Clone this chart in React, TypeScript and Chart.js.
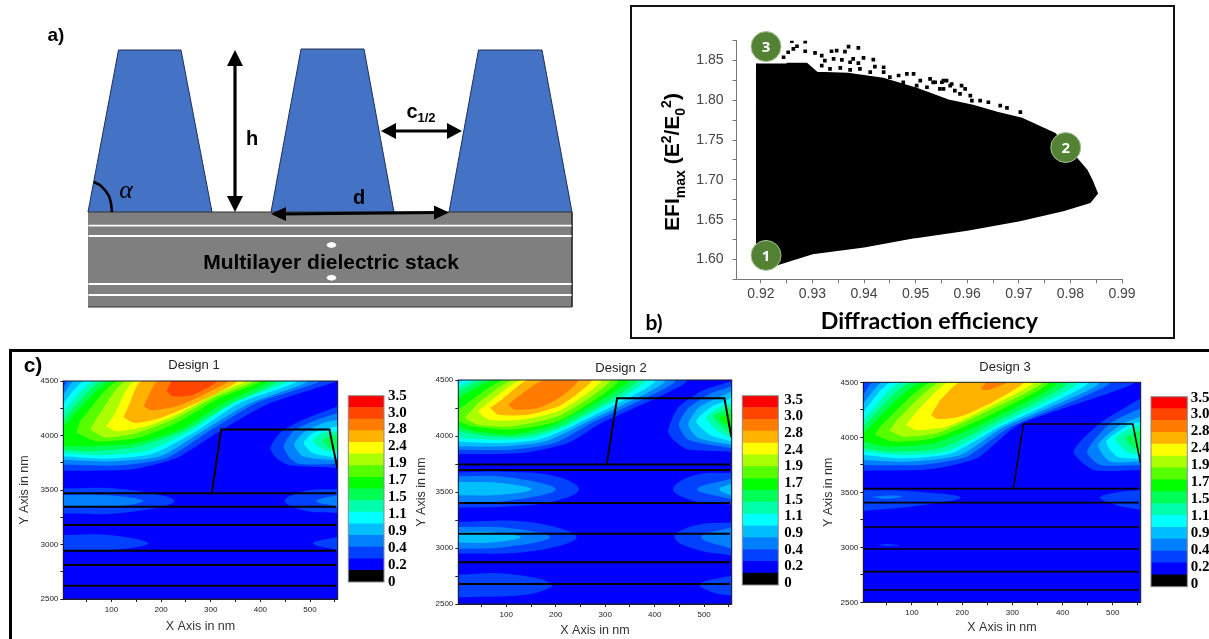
import React, { useEffect, useRef } from "react";
import { Chart, registerables } from "chart.js";

Chart.register(...registerables);

const SANS = "'Liberation Sans', Arial, sans-serif";
const SERIF = "'Liberation Serif', serif";

// ---------- contour levels (low to high) ----------
const levelColors = ["#000000", "#0000ff", "#0040ff", "#0080ff", "#00bfff", "#00ffff", "#00ffaa", "#00ff55", "#00ff00", "#55ff00", "#aaff00", "#ffff00", "#ffb200", "#ff7c00", "#ff4500", "#ff0000"];
const legendLabels = ["0", "0.2", "0.4", "0.9", "1.1", "1.5", "1.7", "1.9", "2.4", "2.8", "3.0", "3.5"];

// ---------- Design 1: first polygon of each list is level 2, then upward ----------
const design1Lobe = [
  [3, 3677, 137, 3687, 231, 3794, 312, 4023, 412, 4283, 553, 4500, 3, 4500],
  [3, 3732, 117, 3726, 211, 3794, 291, 4023, 392, 4298, 516, 4500, 13, 4500, 3, 4436],
  [3, 3778, 104, 3763, 198, 3809, 278, 4023, 372, 4283, 493, 4500, 26, 4500, 3, 4375],
  [3, 3809, 90, 3787, 181, 3830, 265, 4023, 358, 4298, 472, 4500, 47, 4500, 3, 4298],
  [3, 3839, 77, 3818, 171, 3861, 258, 4038, 345, 4298, 452, 4500, 67, 4500, 3, 4222],
  [3, 3870, 63, 3855, 157, 3901, 244, 4038, 338, 4283, 432, 4500, 83, 4500, 3, 4145],
  [3, 3901, 63, 3901, 151, 3931, 238, 4054, 325, 4297, 415, 4500, 100, 4500, 3, 4084],
  [30, 4023, 70, 3947, 151, 3977, 231, 4115, 318, 4344, 399, 4500, 114, 4500, 36, 4130],
  [57, 4054, 87, 3983, 151, 4023, 231, 4161, 312, 4359, 385, 4500, 130, 4500, 70, 4160],
  [89, 4084, 110, 4038, 171, 4084, 238, 4206, 312, 4390, 369, 4500, 147, 4500, 104, 4176],
  [124, 4167, 147, 4115, 198, 4161, 278, 4313, 352, 4500, 161, 4500, 134, 4268],
  [165, 4268, 181, 4231, 231, 4268, 285, 4375, 335, 4500, 194, 4500, 174, 4359],
  [211, 4405, 224, 4359, 265, 4375, 312, 4500, 221, 4500],
];
const design1RightLobe = [
  [555.7, 3702, 459, 3726, 432, 3794, 420, 3885, 439, 4023, 479, 4130, 555.7, 4268],
  [555.7, 3739, 479, 3739, 459, 3794, 447, 3901, 466, 4038, 506, 4130, 555.7, 4206],
  [555.7, 3769, 486, 3809, 468, 3916, 486, 4023, 526, 4115, 555.7, 4145],
  [555.7, 3794, 506, 3839, 487, 3931, 506, 4023, 540, 4069, 555.7, 4084],
  [555.7, 3839, 526, 3870, 506, 3947, 523, 4023, 555.7, 4038],
  [555.7, 3870, 540, 3885, 526, 3947, 536, 3992, 555.7, 4008],
];
const design1Blobs040 = [
  [3, 3515, 120, 3510, 227, 3400, 120, 3290, 3, 3285],
  [555.7, 3510, 490, 3490, 449, 3400, 490, 3310, 555.7, 3290],
  [3, 3087, 100, 3085, 174, 3010, 100, 2950, 3, 2950],
  [555.7, 3070, 506, 3010, 555.7, 2950],
];
const design1Blobs080 = [
  [3, 3455, 100, 3450, 164, 3400, 100, 3347, 3, 3347],
  [555.7, 3455, 512, 3400, 555.7, 3347],
];
const design1Blobs0bf: number[][] = [];
const design1Layers = [3470, 3347, 3179, 2943, 2812, 2622];
const design1ProfileX = [302, 321, 539, 555];
const design1ProfileY = [3470, 4056, 4056, 3700];

// ---------- Design 2 ----------
const design2Lobe = [
  [3, 3839, 131, 3848, 225, 3938, 286, 4101, 464, 4500, 3, 4500],
  [3, 3878, 111, 3878, 198, 3938, 266, 4101, 441, 4500, 3, 4500],
  [3, 3908, 91, 3908, 178, 3952, 252, 4101, 420, 4500, 3, 4500],
  [3, 3952, 84, 3938, 165, 3967, 239, 4101, 400, 4500, 16, 4500, 3, 4482],
  [3, 3982, 70, 3967, 151, 3982, 229, 4101, 380, 4500, 37, 4500, 3, 4443],
  [3, 4042, 64, 3997, 131, 3997, 218, 4101, 363, 4500, 57, 4500, 3, 4399],
  [3, 4086, 37, 4042, 111, 4012, 205, 4116, 346, 4500, 77, 4500, 3, 4339],
  [3, 4131, 30, 4086, 111, 4057, 212, 4146, 326, 4500, 97, 4500, 3, 4235],
  [16, 4161, 43, 4101, 111, 4086, 212, 4190, 309, 4500, 114, 4500, 43, 4295],
  [42, 4220, 64, 4146, 131, 4146, 212, 4235, 292, 4500, 131, 4500, 70, 4320],
  [67, 4250, 84, 4190, 144, 4190, 212, 4280, 272, 4500, 144, 4500, 91, 4325],
  [104, 4280, 117, 4235, 165, 4250, 212, 4354, 246, 4500, 175, 4500, 124, 4354],
];
const design2RightLobe = [
  [555.7, 3860, 468, 3880, 441, 3952, 427, 4042, 447, 4250, 494, 4399, 555.7, 4490],
  [555.7, 3892, 468, 3967, 449, 4101, 468, 4250, 515, 4384, 555.7, 4443],
  [555.7, 3922, 488, 3982, 468, 4101, 488, 4250, 535, 4354, 555.7, 4399],
  [555.7, 3952, 511, 4012, 484, 4131, 511, 4250, 549, 4325, 555.7, 4354],
  [555.7, 3982, 528, 4042, 504, 4161, 528, 4250, 555.7, 4295],
  [555.7, 4012, 539, 4072, 518, 4176, 542, 4235, 555.7, 4250],
  [555.7, 4057, 545, 4101, 531, 4161, 555.7, 4205],
];
const design2Blobs040 = [
  [3, 3675, 100, 3680, 200, 3640, 247, 3524, 200, 3420, 100, 3370, 3, 3360],
  [555.7, 3673, 480, 3650, 437, 3524, 480, 3420, 555.7, 3387],
  [3, 3235, 150, 3230, 242, 3097, 150, 2970, 3, 2950],
  [555.7, 3231, 480, 3200, 440, 3097, 480, 2990, 555.7, 2932],
  [3, 2763, 100, 2770, 193, 2679, 150, 2590, 3, 2560],
  [555.7, 2754, 491, 2679, 520, 2600, 555.7, 2575],
];
const design2Blobs080 = [
  [3, 3640, 100, 3635, 200, 3524, 100, 3420, 3, 3410],
  [555.7, 3620, 486, 3524, 555.7, 3434],
  [3, 3187, 100, 3180, 188, 3097, 100, 3010, 3, 2992],
  [555.7, 3187, 494, 3097, 555.7, 2992],
];
const design2Blobs0bf = [
  [3, 3590, 90, 3580, 151, 3524, 90, 3475, 3, 3470],
  [555.7, 3575, 531, 3524, 555.7, 3465],
  [3, 3142, 70, 3140, 129, 3097, 70, 3050, 3, 3046],
];
const design2Layers = [3745, 3697, 3401, 3127, 2873, 2679];
const design2ProfileX = [303, 324, 541, 555];
const design2ProfileY = [3745, 4336, 4336, 3990];

// ---------- Design 3 ----------
const design3Lobe = [
  [3, 3697, 136, 3709, 229, 3809, 312, 4112, 542, 4500, 3, 4500],
  [3, 3749, 116, 3749, 209, 3824, 292, 4082, 492, 4500, 23, 4500, 3, 4385],
  [3, 3794, 96, 3779, 196, 3839, 279, 4082, 472, 4500, 43, 4500, 3, 4309],
  [3, 3839, 83, 3809, 179, 3855, 269, 4082, 449, 4500, 60, 4500, 3, 4233],
  [3, 3870, 76, 3839, 169, 3870, 259, 4082, 429, 4500, 79, 4500, 3, 4158],
  [3, 3900, 63, 3870, 156, 3900, 249, 4097, 409, 4500, 99, 4500, 3, 4097],
  [3, 3961, 50, 3915, 143, 3945, 242, 4127, 389, 4500, 119, 4500, 3, 4036],
  [26, 4021, 63, 3961, 143, 3991, 242, 4173, 372, 4500, 139, 4500, 36, 4097],
  [55, 4061, 83, 4006, 149, 4036, 242, 4218, 359, 4500, 156, 4500, 70, 4158],
  [88, 4112, 109, 4067, 169, 4097, 249, 4264, 342, 4500, 173, 4500, 109, 4233],
  [138, 4203, 153, 4164, 196, 4188, 262, 4324, 322, 4500, 196, 4500, 156, 4339],
  [236, 4436, 252, 4430, 289, 4500, 248, 4500],
];
const design3RightLobe = [
  [555.7, 3703, 462, 3703, 422, 3870, 475, 4127, 555.7, 4355],
  [555.7, 3749, 475, 3749, 449, 3870, 495, 4127, 555.7, 4264],
  [555.7, 3779, 495, 3779, 471, 3930, 515, 4112, 555.7, 4188],
  [555.7, 3803, 509, 3824, 487, 3960, 532, 4112, 555.7, 4142],
  [555.7, 3839, 529, 3864, 505, 3991, 542, 4097, 555.7, 4112],
  [555.7, 3870, 542, 3900, 525, 3991, 555.7, 4067],
];
const design3Blobs040 = [
  [3, 3521, 100, 3510, 197, 3452, 100, 3370, 3, 3330],
  [555.7, 3521, 510, 3500, 475, 3452, 510, 3380, 555.7, 3340],
  [30, 3020, 50, 3030, 75, 3015, 50, 3012],
];
const design3Blobs080 = [[20, 3460, 50, 3440, 80, 3465, 50, 3470]];
const design3Blobs0bf: number[][] = [];
const design3Layers = [3533, 3406, 3185, 2985, 2779, 2612];
const design3ProfileX = [302, 322, 540, 555];
const design3ProfileY = [3533, 4121, 4121, 3773];

// ---------- Panel b: diffraction efficiency vs EFI max ----------
const paretoX = [0.9192, 0.9192, 0.9225, 0.93, 0.94, 0.95, 0.96, 0.9702, 0.9786, 0.9838, 0.9852, 0.9842, 0.9832, 0.9819, 0.977, 0.9706, 0.9658, 0.9611, 0.9566, 0.9502, 0.9437, 0.9369, 0.9309, 0.9289, 0.925];
const paretoY = [1.8462, 1.605, 1.592, 1.6075, 1.616, 1.6277, 1.637, 1.649, 1.6616, 1.6716, 1.6829, 1.6992, 1.7118, 1.7219, 1.7583, 1.7771, 1.7847, 1.7935, 1.7997, 1.8148, 1.8274, 1.8337, 1.8349, 1.8462, 1.8462];
const fringeX = [0.926, 0.9286, 0.927, 0.9263, 0.9253, 0.9244, 0.9286, 0.9305, 0.9318, 0.9337, 0.9347, 0.937, 0.9389, 0.9363, 0.9379, 0.9399, 0.9418, 0.9324, 0.9341, 0.9357, 0.9373, 0.9389, 0.9421, 0.9438, 0.9438, 0.9318, 0.9334, 0.9354, 0.9373, 0.9392, 0.9412, 0.945, 0.9467, 0.9483, 0.9496, 0.9509, 0.9528, 0.9538, 0.9551, 0.956, 0.9476, 0.9502, 0.9522, 0.9483, 0.9547, 0.9567, 0.9534, 0.9554, 0.957, 0.9589, 0.9596, 0.9554, 0.9576, 0.9586, 0.9606, 0.9625, 0.9641, 0.9664, 0.9677, 0.9703, 0.9609, 0.9722, 0.9748, 0.9761];
const fringeY = [1.8743, 1.8739, 1.868, 1.8647, 1.8605, 1.8542, 1.8617, 1.8596, 1.8563, 1.8617, 1.8626, 1.8676, 1.8659, 1.8613, 1.8521, 1.8534, 1.8513, 1.85, 1.8521, 1.8508, 1.8479, 1.8467, 1.8425, 1.8416, 1.8354, 1.8437, 1.8395, 1.8408, 1.8383, 1.8395, 1.8354, 1.8291, 1.8312, 1.8333, 1.8333, 1.8249, 1.827, 1.8228, 1.8228, 1.8249, 1.8228, 1.8186, 1.8165, 1.8144, 1.8144, 1.8186, 1.8227, 1.8248, 1.8206, 1.8186, 1.8144, 1.8144, 1.8123, 1.8081, 1.806, 1.7997, 1.7976, 1.7934, 1.7905, 1.7851, 1.7997, 1.7704, 1.762, 1.7587];
const markerX = [0.921, 0.9791, 0.921];
const markerY = [1.605, 1.7407, 1.8676];
const markerNames = ["1", "2", "3"];

// ---------- Panel a: grating schematic, in sketch units ----------
const ridges = [
  [88, 212, 118.5, 50, 181, 50, 212, 212],
  [271, 212, 301, 49, 364, 49, 394, 212],
  [449, 212, 478.5, 50, 542, 50, 572, 212],
];
const stack = [88, 212, 572, 212, 572, 307, 88, 307];
const whiteLayers = [225.7, 236, 284, 295];
const stackDots = [
  [326.5, 245, 328, 243, 331.5, 242, 335, 243, 336.5, 245, 335, 247, 331.5, 248, 328, 247],
  [326.5, 277.7, 328, 275.7, 331.5, 274.7, 335, 275.7, 336.5, 277.7, 335, 279.7, 331.5, 280.7, 328, 279.7],
];
const arrowShafts = [
  [235, 60, 235, 202],
  [281, 214, 439, 212.5],
  [391, 131, 452, 131],
];
const arrowHeads = [
  [235, 50, 227, 66, 243, 66],
  [235, 212, 227, 196, 243, 196],
  [271, 214, 286, 207, 286, 221],
  [449, 212.5, 434, 205.5, 434, 219.5],
  [381, 131, 396, 123, 396, 139],
  [462, 131, 447, 123, 447, 139],
];
const angleArc = [94, 182, 100, 185, 105, 190, 109, 196, 111, 203, 112, 212];

type Pt = { x: number; y: number };
const toPts = (f: number[]): Pt[] => {
  const out: Pt[] = [];
  for (let i = 0; i < f.length; i += 2) out.push({ x: f[i], y: f[i + 1] });
  return out;
};
const shape = (f: number[], color: string, border = 0, borderColor = color, tension = 0) => ({
  data: toPts(f),
  showLine: true,
  fill: "shape",
  backgroundColor: color,
  borderColor,
  borderWidth: border,
  pointRadius: 0,
  tension,
});
const stroke = (f: number[], color: string, width: number) => ({
  data: toPts(f),
  showLine: true,
  fill: false,
  borderColor: color,
  backgroundColor: color,
  borderWidth: width,
  pointRadius: 0,
  tension: 0,
});
const ordered = (list: any[]) => list.map((d, i) => ({ ...d, order: list.length - i }));

const plotFrame = {
  id: "plotFrame",
  beforeDatasetsDraw(chart: any, _a: any, o: any) {
    if (!o.fill) return;
    const { left, top, width, height } = chart.chartArea;
    chart.ctx.save();
    chart.ctx.fillStyle = o.fill;
    chart.ctx.fillRect(left, top, width, height);
    chart.ctx.restore();
  },
  afterDatasetsDraw(chart: any, _a: any, o: any) {
    if (!o.stroke) return;
    const { left, top, width, height } = chart.chartArea;
    chart.ctx.save();
    chart.ctx.strokeStyle = o.stroke;
    chart.ctx.lineWidth = 1;
    chart.ctx.strokeRect(left, top, width, height);
    chart.ctx.restore();
  },
};
const markerText = {
  id: "markerText",
  afterDatasetsDraw(chart: any) {
    const { ctx, scales } = chart;
    ctx.save();
    ctx.fillStyle = "#ffffff";
    ctx.font = `bold 15px 'Open Sans', sans-serif`;
    ctx.textAlign = "center";
    ctx.textBaseline = "middle";
    markerNames.forEach((n, i) => ctx.fillText(n, scales.x.getPixelForValue(markerX[i]), scales.y.getPixelForValue(markerY[i]) + 1));
    ctx.restore();
  },
};

type Box = { x: number; y: number; w: number; h: number };

function ChartCanvas({ box, config }: { box: Box; config: any }) {
  const ref = useRef<HTMLCanvasElement>(null);
  useEffect(() => {
    const chart = new Chart(ref.current as HTMLCanvasElement, config);
    return () => chart.destroy();
  }, []);
  return <canvas ref={ref} width={box.w} height={box.h} style={{ position: "absolute", left: box.x, top: box.y, width: box.w, height: box.h }} />;
}

function Text({ x, y, style, children }: { x: number; y: number; style?: any; children: any }) {
  return (
    <div style={{ position: "absolute", left: x, top: y, transform: "translate(-50%,-50%)", whiteSpace: "nowrap", fontFamily: SANS, color: "#000", ...style }}>
      {children}
    </div>
  );
}

const baseOptions = {
  responsive: false,
  animation: false as const,
  events: [] as string[],
};

function contourConfig(d: any) {
  const { box, plot, title, titleCy, xPad, yPad } = d;
  const lh = 13 * 1.2;
  const tTop = titleCy - box.y - lh / 2;
  const tBottom = plot.t - box.y - lh - tTop;
  const soft = 0.22;
  const round = 0.4;
  const sets = d.lobe.map((p: number[], i: number) => shape(p, levelColors[i + 2], 0, levelColors[i + 2], soft));
  const rightSets = d.right.map((p: number[], i: number) => shape(p, levelColors[i + 2], 0, levelColors[i + 2], soft));
  const blobs = [
    ...d.b040.map((p: number[]) => shape(p, levelColors[2], 0, levelColors[2], round)),
    ...d.b080.map((p: number[]) => shape(p, levelColors[3], 0, levelColors[3], round)),
    ...d.b0bf.map((p: number[]) => shape(p, levelColors[4], 0, levelColors[4], round)),
  ];
  const lines = d.layers.map((v: number) => stroke([3, v, 552, v], "#000", d.lw));
  const profile: number[] = [];
  d.profX.forEach((x: number, i: number) => profile.push(x, d.profY[i]));
  const all = [...sets, ...rightSets, ...blobs, ...lines, stroke(profile, "#000", d.lw)];
  return {
    type: "scatter",
    data: { datasets: ordered(all) },
    plugins: [plotFrame],
    options: {
      ...baseOptions,
      plugins: {
        legend: { display: false },
        tooltip: { enabled: false },
        title: { display: true, text: title, color: "#222", font: { family: SANS, size: 13, weight: "normal" }, padding: { top: tTop, bottom: tBottom } },
        plotFrame: { fill: levelColors[1], stroke: "#1a1a2a" },
      },
      scales: {
        x: {
          type: "linear",
          min: 3,
          max: 555.7,
          afterFit: (s: any) => { s.height = box.y + box.h - plot.b; },
          grid: { drawOnChartArea: false, tickLength: 3, color: "#222", tickColor: "#222" },
          border: { color: "#222" },
          ticks: {
            stepSize: 50,
            includeBounds: false,
            autoSkip: false,
            maxRotation: 0,
            padding: 3,
            color: "#222",
            font: { family: SANS, size: 8 },
            callback: (v: number) => (Math.round(v) % 100 === 0 ? String(Math.round(v)) : ""),
          },
          title: { display: true, text: "X Axis in nm", color: "#333", font: { family: SANS, size: 12.5, weight: "normal" }, padding: { top: 0, bottom: xPad } },
        },
        y: {
          type: "linear",
          min: 2500,
          max: 4500,
          afterFit: (s: any) => { s.width = plot.l - box.x; },
          grid: { drawOnChartArea: false, tickLength: 3, color: "#222", tickColor: "#222" },
          border: { color: "#222" },
          ticks: {
            stepSize: 250,
            autoSkip: false,
            padding: 2,
            color: "#222",
            font: { family: SANS, size: 8 },
            callback: (v: number) => (Math.round(v) % 500 === 0 ? String(Math.round(v)) : ""),
          },
          title: { display: true, text: "Y Axis in nm", color: "#333", font: { family: SANS, size: 12.5, weight: "normal" }, padding: { top: yPad, bottom: yPad } },
        },
        gutter: {
          type: "linear",
          position: "right",
          min: 0,
          max: 1,
          afterFit: (s: any) => { s.width = box.x + box.w - plot.r; },
          grid: { display: false },
          border: { display: false },
          ticks: { display: false },
        },
      },
    },
  };
}

function legendConfig(box: Box, plot: any, tickLow: number, tickHigh: number) {
  return {
    type: "bar",
    data: {
      labels: ["level"],
      datasets: levelColors.map((c) => ({ data: [1], backgroundColor: c, stack: "s", barPercentage: 1, categoryPercentage: 1 })),
    },
    plugins: [plotFrame],
    options: {
      ...baseOptions,
      layout: { padding: { left: plot.l - box.x, top: plot.t - box.y, bottom: box.y + box.h - plot.b, right: 0 } },
      plugins: { legend: { display: false }, tooltip: { enabled: false }, plotFrame: { stroke: "#8a8a8a" } },
      scales: {
        x: { display: false, stacked: true },
        y: {
          position: "right",
          stacked: true,
          min: 0,
          max: levelColors.length,
          afterFit: (s: any) => { s.width = box.x + box.w - plot.r; },
          afterBuildTicks: (s: any) => {
            s.ticks = legendLabels.map((_, i) => ({ value: tickLow + (i * (tickHigh - tickLow)) / (legendLabels.length - 1) }));
          },
          grid: { display: false, drawTicks: false },
          border: { display: false },
          ticks: {
            autoSkip: false,
            padding: plot.gap,
            color: "#000",
            font: { family: SERIF, size: 15, weight: "bold" },
            callback: (_v: number, i: number) => legendLabels[i],
          },
        },
      },
    },
  };
}

const panelBBox = { x: 632, y: 8, w: 541, h: 329 };
const panelBPlot = { l: 736.6, r: 1122, t: 40.7, b: 279.3 };
const panelBConfig = {
  type: "scatter",
  data: {
    datasets: [
      {
        data: markerX.map((x, i) => ({ x, y: markerY[i] })),
        pointRadius: 15,
        pointBackgroundColor: "#548235",
        pointBorderColor: "#a9c29a",
        pointBorderWidth: 1,
        clip: false,
        showLine: false,
      },
      {
        data: fringeX.map((x, i) => ({ x, y: fringeY[i] })),
        pointStyle: "rect",
        pointRadius: 2.6,
        pointBackgroundColor: "#000",
        pointBorderWidth: 0,
        showLine: false,
      },
      shape(paretoX.flatMap((x, i) => [x, paretoY[i]]), "#000", 1.5, "#000"),
    ],
  },
  plugins: [markerText],
  options: {
    ...baseOptions,
    layout: { padding: { left: 0, top: panelBPlot.t - panelBBox.y, right: panelBBox.x + panelBBox.w - panelBPlot.r, bottom: 0 } },
    plugins: { legend: { display: false }, tooltip: { enabled: false } },
    scales: {
      x: {
        type: "linear",
        min: 0.9153,
        max: 0.99,
        afterFit: (s: any) => { s.height = panelBBox.y + panelBBox.h - panelBPlot.b; },
        grid: { drawOnChartArea: false, tickLength: 4, color: "#777", tickColor: "#777" },
        border: { color: "#777" },
        ticks: {
          stepSize: 0.005,
          includeBounds: false,
          autoSkip: false,
          maxRotation: 0,
          padding: 2,
          color: "#444",
          font: { family: SANS, size: 14 },
          callback: (v: number) => (Math.round(v * 1000) % 10 === 0 ? v.toFixed(2) : ""),
        },
        title: { display: true, text: "Diffraction efficiency", color: "#000", font: { family: "Lato, sans-serif", size: 23.2, weight: "bold" }, padding: { top: 0, bottom: 1.5 } },
      },
      y: {
        type: "linear",
        min: 1.575,
        max: 1.875,
        afterFit: (s: any) => { s.width = panelBPlot.l - panelBBox.x; },
        grid: { drawOnChartArea: false, tickLength: 4, color: "#777", tickColor: "#777" },
        border: { color: "#777" },
        ticks: {
          stepSize: 0.025,
          autoSkip: false,
          padding: 9,
          color: "#444",
          font: { family: SANS, size: 14 },
          callback: (v: number) => (Math.round(v * 1000) % 50 === 0 ? v.toFixed(2) : ""),
        },
      },
    },
  },
};

const sketchBox = { x: 0, y: 0, w: 600, h: 345 };
const sketchConfig = {
  type: "scatter",
  data: {
    datasets: ordered([
      ...ridges.map((r) => shape(r, "#4472c4", 1, "#1f2f55")),
      shape(stack, "#7f7f7f", 1, "#333"),
      ...whiteLayers.map((v) => stroke([88.5, v, 571.5, v], "#fff", 1.8)),
      ...stackDots.map((d) => shape(d, "#fff")),
      ...arrowShafts.map((a) => stroke(a, "#000", 3.2)),
      ...arrowHeads.map((a) => shape(a, "#000")),
      stroke(angleArc, "#000", 2.6),
    ]),
  },
  options: {
    ...baseOptions,
    plugins: { legend: { display: false }, tooltip: { enabled: false } },
    scales: {
      x: { type: "linear", display: false, min: 0, max: 600 },
      y: { type: "linear", display: false, min: 0, max: 345, reverse: true },
    },
  },
};

const designs = [
  {
    box: { x: 12, y: 355, w: 364, h: 284 }, plot: { l: 63.3, r: 337.7, t: 381, b: 599 }, title: "Design 1", titleCy: 365, xPad: 5, yPad: 5.5, lw: 2,
    lobe: design1Lobe, right: design1RightLobe, b040: design1Blobs040, b080: design1Blobs080, b0bf: design1Blobs0bf, layers: design1Layers, profX: design1ProfileX, profY: design1ProfileY,
  },
  {
    box: { x: 410, y: 355, w: 422, h: 284 }, plot: { l: 458.3, r: 731.7, t: 380, b: 604 }, title: "Design 2", titleCy: 368, xPad: 1, yPad: 4.5, lw: 2,
    lobe: design2Lobe, right: design2RightLobe, b040: design2Blobs040, b080: design2Blobs080, b0bf: design2Blobs0bf, layers: design2Layers, profX: design2ProfileX, profY: design2ProfileY,
  },
  {
    box: { x: 815, y: 355, w: 380, h: 284 }, plot: { l: 863.3, r: 1140.7, t: 382.3, b: 602.3 }, title: "Design 3", titleCy: 367, xPad: 4, yPad: 6, lw: 1.6,
    lobe: design3Lobe, right: design3RightLobe, b040: design3Blobs040, b080: design3Blobs080, b0bf: design3Blobs0bf, layers: design3Layers, profX: design3ProfileX, profY: design3ProfileY,
  },
];
const legends = [
  { box: { x: 340, y: 380, w: 75, h: 215 }, plot: { l: 348.3, r: 384, t: 395.7, b: 583.3, gap: 4 }, low: 0, high: 16 },
  { box: { x: 735, y: 380, w: 75, h: 220 }, plot: { l: 742.3, r: 778.3, t: 395.7, b: 587.7, gap: 6 }, low: 0.17, high: 15.64 },
  { box: { x: 1142, y: 380, w: 67, h: 220 }, plot: { l: 1151, r: 1187.3, t: 396.7, b: 586.7, gap: 3.5 }, low: 0.22, high: 15.92 },
];

export default function App() {
  return (
    <div style={{ position: "absolute", left: 0, top: 0, width: 1209, height: 639, overflow: "hidden", background: "#fff" }}>
      <div style={{ position: "absolute", left: 630, top: 5, width: 541, height: 330, border: "2px solid #111" }} />
      <div style={{ position: "absolute", left: 10, top: 349, width: 1199, height: 3, background: "#000" }} />
      <div style={{ position: "absolute", left: 9, top: 349, width: 3, height: 290, background: "#000" }} />

      <ChartCanvas box={sketchBox} config={sketchConfig} />
      <ChartCanvas box={panelBBox} config={panelBConfig} />
      {designs.map((d, i) => <ChartCanvas key={i} box={d.box} config={contourConfig(d)} />)}
      {legends.map((l, i) => <ChartCanvas key={i} box={l.box} config={legendConfig(l.box, l.plot, l.low, l.high)} />)}

      <Text x={56} y={35} style={{ fontWeight: "bold", fontSize: 19 }}>a)</Text>
      <Text x={654} y={321} style={{ fontFamily: "Lato, sans-serif", fontWeight: "bold", fontSize: 21 }}>b)</Text>
      <Text x={33} y={365} style={{ fontWeight: "bold", fontSize: 21 }}>c)</Text>
      <Text x={252} y={138} style={{ fontWeight: "bold", fontSize: 20 }}>h</Text>
      <Text x={359} y={197} style={{ fontWeight: "bold", fontSize: 20 }}>d</Text>
      <Text x={421} y={112} style={{ fontWeight: "bold", fontSize: 20 }}>c<sub style={{ fontSize: 13, verticalAlign: "-4px" }}>1/2</sub></Text>
      <Text x={126} y={190} style={{ fontFamily: SERIF, fontStyle: "italic", fontSize: 26 }}>α</Text>
      <Text x={331} y={262} style={{ fontWeight: "bold", fontSize: 21 }}>Multilayer dielectric stack</Text>
      <Text x={673} y={162} style={{ fontWeight: "bold", fontSize: 21, transform: "translate(-50%,-50%) rotate(-90deg)" }}>
        EFI<sub style={{ fontSize: 14 }}>max</sub> (E<sup style={{ fontSize: 14 }}>2</sup>/E<sub style={{ fontSize: 14 }}>0</sub><sup style={{ fontSize: 14 }}>2</sup>)
      </Text>
    </div>
  );
}
